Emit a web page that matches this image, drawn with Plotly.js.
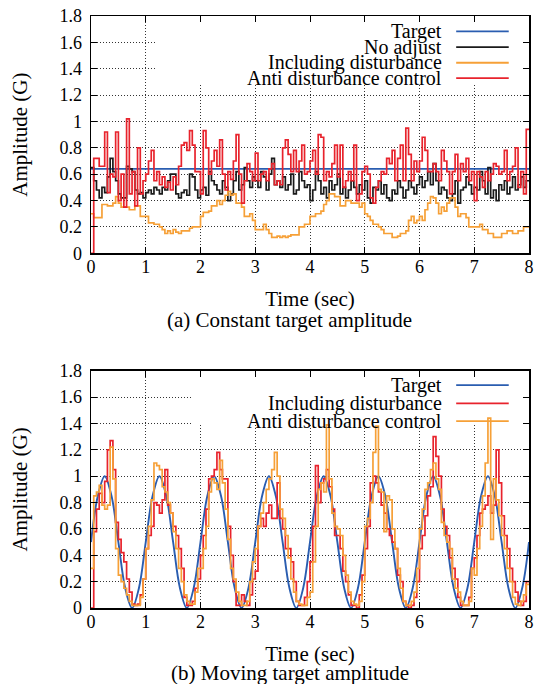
<!DOCTYPE html>
<html>
<head>
<meta charset="utf-8">
<script src="https://cdn.plot.ly/plotly-3.0.1.min.js"></script>
<style>html,body{margin:0;padding:0;background:#fff;}#chart{width:535px;height:684px;}</style>
</head>
<body>
<div id="chart"></div>
<script>
// ---------- DATA ----------
const dt = 0.05;            // sampling step (s)
const xTicks = [0,1,2,3,4,5,6,7,8];
const yTicks = [0,0.2,0.4,0.6,0.8,1,1.2,1.4,1.6,1.8];

// (a) Constant target amplitude
const aTargetTime = [0, 8];
const aTarget = [0.64, 0.64];
const aNoAdjust = [
 0.65,0.55,0.48,0.42,0.50,0.46,0.58,0.72,0.62,0.55,0.45,0.42,0.42,0.66,0.64,0.62,0.48,0.45,0.46,0.42,
 0.46,0.48,0.45,0.50,0.48,0.45,0.50,0.48,0.55,0.60,0.60,0.45,0.42,0.46,0.48,0.44,0.60,0.58,0.48,0.42,
 0.48,0.50,0.44,0.62,0.55,0.52,0.48,0.45,0.55,0.50,0.40,0.45,0.55,0.62,0.48,0.52,0.65,0.55,0.50,0.58,
 0.55,0.50,0.62,0.58,0.48,0.60,0.72,0.52,0.55,0.50,0.58,0.48,0.52,0.60,0.45,0.48,0.62,0.55,0.50,0.52,
 0.40,0.48,0.62,0.55,0.45,0.50,0.42,0.55,0.48,0.52,0.60,0.45,0.50,0.42,0.48,0.55,0.50,0.45,0.52,0.48,
 0.55,0.42,0.38,0.50,0.48,0.55,0.45,0.52,0.42,0.40,0.48,0.45,0.55,0.50,0.42,0.48,0.55,0.50,0.45,0.52,
 0.58,0.50,0.55,0.62,0.52,0.68,0.55,0.45,0.50,0.48,0.42,0.40,0.45,0.55,0.38,0.48,0.50,0.58,0.52,0.45,
 0.50,0.48,0.62,0.55,0.45,0.65,0.42,0.48,0.40,0.52,0.48,0.55,0.45,0.50,0.58,0.48,0.52,0.58,0.50,0.55
];
const aIncluding = [
 0.30,0.27,0.27,0.27,0.37,0.37,0.36,0.36,0.38,0.43,0.38,0.35,0.35,0.35,0.33,0.33,0.36,0.36,0.28,0.28,
 0.28,0.23,0.23,0.22,0.22,0.20,0.18,0.15,0.17,0.15,0.18,0.16,0.15,0.17,0.17,0.17,0.19,0.20,0.20,0.20,
 0.28,0.31,0.31,0.32,0.36,0.36,0.40,0.37,0.40,0.44,0.47,0.44,0.45,0.38,0.38,0.35,0.28,0.28,0.30,0.25,
 0.18,0.18,0.18,0.22,0.18,0.15,0.12,0.12,0.13,0.12,0.13,0.12,0.13,0.14,0.14,0.14,0.20,0.20,0.22,0.22,
 0.28,0.28,0.30,0.30,0.32,0.37,0.40,0.45,0.45,0.43,0.43,0.36,0.36,0.40,0.40,0.38,0.38,0.38,0.35,0.38,
 0.30,0.28,0.25,0.22,0.22,0.20,0.18,0.15,0.15,0.15,0.12,0.12,0.13,0.15,0.15,0.17,0.25,0.28,0.23,0.25,
 0.28,0.25,0.33,0.38,0.43,0.42,0.38,0.30,0.35,0.32,0.38,0.42,0.42,0.35,0.28,0.30,0.30,0.27,0.20,0.20,
 0.20,0.20,0.22,0.18,0.18,0.15,0.15,0.12,0.12,0.12,0.15,0.15,0.17,0.17,0.15,0.15,0.17,0.17,0.20,0.20
];
const aAnti = [
 0.00,0.72,0.72,0.66,0.66,0.92,0.46,0.60,0.58,0.92,0.40,0.60,0.35,1.02,0.45,0.62,0.36,0.80,0.45,0.55,
 0.60,0.70,0.78,0.55,0.62,0.52,0.58,0.50,0.54,0.48,0.58,0.52,0.66,0.82,0.84,0.78,0.93,0.82,0.62,0.62,
 0.45,0.93,0.80,0.60,0.70,0.78,0.66,0.86,0.60,0.48,0.62,0.56,0.70,0.90,0.60,0.38,0.55,0.68,0.62,0.55,
 0.76,0.55,0.60,0.62,0.55,0.64,0.68,0.52,0.55,0.52,0.80,0.86,0.75,0.62,0.78,0.62,0.70,0.82,0.60,0.62,
 0.70,0.78,0.60,0.90,0.88,0.55,0.62,0.58,0.68,0.82,0.58,0.82,0.50,0.55,0.62,0.55,0.82,0.40,0.45,0.62,
 0.66,0.60,0.42,0.38,0.50,0.55,0.62,0.60,0.72,0.68,0.78,0.55,0.72,0.82,0.55,0.95,0.75,0.55,0.70,0.62,
 0.70,0.88,0.78,0.62,0.62,0.68,0.62,0.55,0.78,0.70,0.62,0.45,0.62,0.75,0.55,0.68,0.62,0.72,0.55,0.62,
 0.40,0.62,0.58,0.50,0.62,0.55,0.60,0.68,0.66,0.60,0.62,0.78,0.55,0.62,0.66,0.80,0.50,0.62,0.45,0.94
];

// (b) Moving target amplitude
const bTargetStep = 0.125;
const bTarget = [
 0.5,0.85,1,0.85,0.5,0.15,0,0.15, 0.5,0.85,1,0.85,0.5,0.15,0,0.15,
 0.5,0.85,1,0.85,0.5,0.15,0,0.15, 0.5,0.85,1,0.85,0.5,0.15,0,0.15,
 0.5,0.85,1,0.85,0.5,0.15,0,0.15, 0.5,0.85,1,0.85,0.5,0.15,0,0.15,
 0.5,0.85,1,0.85,0.5,0.15,0,0.15, 0.5,0.85,1,0.85,0.5,0.15,0,0.15, 0.5
];
const bIncluding = [
 0.00,0.58,0.75,0.87,0.80,0.96,1.20,1.27,1.05,0.65,0.52,0.42,0.35,0.22,0.12,0.03,0.02,0.03,0.10,0.22,
 0.45,0.55,0.62,0.80,0.78,0.72,0.82,1.05,0.78,0.72,0.62,0.55,0.45,0.30,0.08,0.02,0.02,0.05,0.15,0.22,
 0.40,0.55,0.75,0.98,1.00,1.05,1.18,1.05,0.98,0.98,0.62,0.40,0.20,0.02,0.02,0.10,0.05,0.02,0.10,0.22,
 0.28,0.62,0.68,0.62,0.72,0.78,0.68,0.68,0.95,0.68,0.60,0.45,0.45,0.35,0.20,0.05,0.02,0.02,0.08,0.20,
 0.35,0.62,1.08,0.80,0.95,0.98,1.05,0.92,0.75,0.55,0.55,0.45,0.28,0.20,0.10,0.02,0.02,0.00,0.10,0.25,
 0.45,0.62,0.95,1.00,0.95,0.88,0.78,0.72,0.60,0.55,0.50,0.45,0.25,0.20,0.05,0.02,0.00,0.02,0.08,0.20,
 0.45,0.55,0.70,0.85,0.92,1.30,1.15,1.00,0.75,0.62,0.55,0.38,0.30,0.22,0.08,0.02,0.02,0.02,0.08,0.30,
 0.38,0.55,0.72,0.75,0.78,0.85,0.72,0.78,1.20,0.95,0.70,0.55,0.45,0.30,0.20,0.12,0.05,0.02,0.05,0.20
];
const bAnti = [
 0.30,0.85,0.88,0.93,0.78,0.75,0.78,1.22,0.98,0.45,0.25,0.20,0.15,0.10,0.05,0.02,0.02,0.02,0.08,0.22,
 0.45,0.62,0.82,1.10,1.08,1.05,0.92,0.88,0.80,0.72,0.58,0.45,0.30,0.20,0.10,0.05,0.03,0.03,0.12,0.30,
 0.30,0.45,0.62,0.88,0.98,0.95,0.90,1.12,0.95,0.75,0.52,0.30,0.22,0.12,0.05,0.02,0.02,0.05,0.20,0.35,
 0.45,0.62,0.72,0.80,0.90,0.98,1.05,1.18,1.00,0.75,0.68,0.55,0.38,0.22,0.12,0.05,0.03,0.02,0.02,0.08,
 0.12,0.35,0.62,0.90,0.95,0.88,1.39,0.98,0.72,0.62,0.60,0.55,0.40,0.25,0.12,0.05,0.03,0.02,0.05,0.20,
 0.62,0.68,0.80,1.18,1.38,0.90,0.88,0.58,0.85,0.82,0.60,0.45,0.30,0.15,0.05,0.02,0.02,0.05,0.12,0.30,
 0.60,0.75,0.90,0.95,1.05,1.10,0.98,0.90,0.65,0.55,0.50,0.45,0.22,0.15,0.12,0.05,0.02,0.02,0.05,0.30,
 0.25,0.45,0.62,0.85,1.10,1.44,0.52,0.98,0.82,0.70,0.55,0.45,0.30,0.20,0.08,0.03,0.02,0.05,0.10,0.18
];

const namesA = ['Target','No adjust','Including disturbance','Anti disturbance control'];
const namesB = ['Target','Including disturbance','Anti disturbance control'];
const captionA = '(a) Constant target amplitude';
const captionB = '(b) Moving target amplitude';

// ---------- STYLE ----------
const C = {blue:'#2a5db0', black:'#1a1a1a', orange:'#f6a037', red:'#e8232c'};
const LW = 1.7;

// step series: extend the last value to the end of the last interval
function stepX(vals){ const n = vals.length; const t = []; for(let i=0;i<=n;i++) t.push(+(i*dt).toFixed(3)); return t; }
function stepY(vals){ return vals.concat([vals[vals.length-1]]); }
function gridX(vals, step){ return vals.map((_,i)=>+(i*step).toFixed(4)); }

const traces = [
 {x:aTargetTime, y:aTarget, name:namesA[0], xaxis:'x', yaxis:'y', mode:'lines', line:{color:C.blue, width:1.9}},
 {x:stepX(aNoAdjust), y:stepY(aNoAdjust), name:namesA[1], xaxis:'x', yaxis:'y', mode:'lines', line:{color:C.black, width:LW, shape:'hv'}},
 {x:stepX(aIncluding), y:stepY(aIncluding), name:namesA[2], xaxis:'x', yaxis:'y', mode:'lines', line:{color:C.orange, width:LW, shape:'hv'}},
 {x:stepX(aAnti), y:stepY(aAnti), name:namesA[3], xaxis:'x', yaxis:'y', mode:'lines', line:{color:C.red, width:LW, shape:'hv'}},
 {x:gridX(bTarget, bTargetStep), y:bTarget, name:namesB[0], xaxis:'x2', yaxis:'y2', mode:'lines', line:{color:C.blue, width:1.9, shape:'spline', smoothing:1}},
 {x:stepX(bIncluding), y:stepY(bIncluding), name:namesB[1], xaxis:'x2', yaxis:'y2', mode:'lines', line:{color:C.red, width:LW, shape:'hv'}},
 {x:stepX(bAnti), y:stepY(bAnti), name:namesB[2], xaxis:'x2', yaxis:'y2', mode:'lines', line:{color:C.orange, width:LW, shape:'hv'}}
];

const FONT = 'Liberation Serif, Times New Roman, serif';
function xAx(anchor){ return {
  anchor:anchor, domain:[0,1], range:[0,8], tickvals:xTicks, ticktext:xTicks.map(String),
  showline:true, linecolor:'#000', linewidth:1.5, mirror:'ticks', ticks:'inside', ticklen:6, tickcolor:'#000',
  showgrid:true, gridcolor:'#333', griddash:'1px,2px', gridwidth:1, zeroline:false,
  tickfont:{size:18, family:FONT, color:'#000'}, ticklabelstandoff:-3,
  title:{text:'Time (sec)', font:{size:21, family:FONT, color:'#000'}, standoff:15}
};}
function yAx(anchor, dom){ return {
  anchor:anchor, domain:dom, range:[0,1.8], tickvals:yTicks, ticktext:yTicks.map(String),
  showline:true, linecolor:'#000', linewidth:1.5, mirror:'ticks', ticks:'inside', ticklen:6, tickcolor:'#000',
  showgrid:true, gridcolor:'#333', griddash:'1px,2px', gridwidth:1, zeroline:false,
  tickfont:{size:18, family:FONT, color:'#000'}, ticklabelstandoff:4,
  title:{text:'Amplitude (G)', font:{size:21, family:FONT, color:'#000'}, standoff:26}
};}

// legend drawn as text + sample segments (gnuplot style key)
const legX = 6.43, legL0 = 6.67, legL1 = 7.63;
const rowsA = [1.683, 1.564, 1.445, 1.329];
const rowsB = [1.691, 1.552, 1.418];
const colA = [C.blue, C.black, C.orange, C.red];
const colB = [C.blue, C.red, C.orange];

const shapes = [
 {type:'rect', xref:'x', yref:'y', x0:1.2, x1:8, y0:1.28, y1:1.8, fillcolor:'#fff', line:{width:0}, layer:'between'},
 {type:'rect', xref:'x2', yref:'y2', x0:1.86, x1:8, y0:1.39, y1:1.8, fillcolor:'#fff', line:{width:0}, layer:'between'}
];
const annotations = [];
namesA.forEach((n,i)=>{
  annotations.push({xref:'x', yref:'y', x:legX, y:rowsA[i], text:n, showarrow:false, xanchor:'right', yanchor:'middle', borderpad:0, font:{size:20, family:FONT, color:'#000'}});
  shapes.push({type:'line', xref:'x', yref:'y', x0:legL0, x1:legL1, y0:rowsA[i], y1:rowsA[i], line:{color:colA[i], width:1.9}});
});
namesB.forEach((n,i)=>{
  annotations.push({xref:'x2', yref:'y2', x:legX, y:rowsB[i], text:n, showarrow:false, xanchor:'right', yanchor:'middle', borderpad:0, font:{size:20, family:FONT, color:'#000'}});
  shapes.push({type:'line', xref:'x2', yref:'y2', x0:legL0, x1:legL1, y0:rowsB[i], y1:rowsB[i], line:{color:colB[i], width:1.9}});
});
annotations.push({xref:'paper', yref:'paper', x:0.454, y:0.4865, text:captionA, showarrow:false, xanchor:'center', yanchor:'middle', font:{size:21, family:FONT, color:'#000'}});
annotations.push({xref:'paper', yref:'paper', x:0.454, y:-0.1098, text:captionB, showarrow:false, xanchor:'center', yanchor:'middle', font:{size:21, family:FONT, color:'#000'}});

const layout = {
  width:535, height:684, margin:{l:91, r:6, t:16, b:76},
  paper_bgcolor:'#fff', plot_bgcolor:'#fff', showlegend:false,
  font:{family:FONT, color:'#000'},
  xaxis:xAx('y'), yaxis:yAx('x',[0.5992,1]),
  xaxis2:xAx('y2'), yaxis2:yAx('x2',[0,0.4008]),
  shapes:shapes, annotations:annotations
};
Plotly.newPlot('chart', traces, layout, {staticPlot:true, displayModeBar:false});
</script>
</body>
</html>
